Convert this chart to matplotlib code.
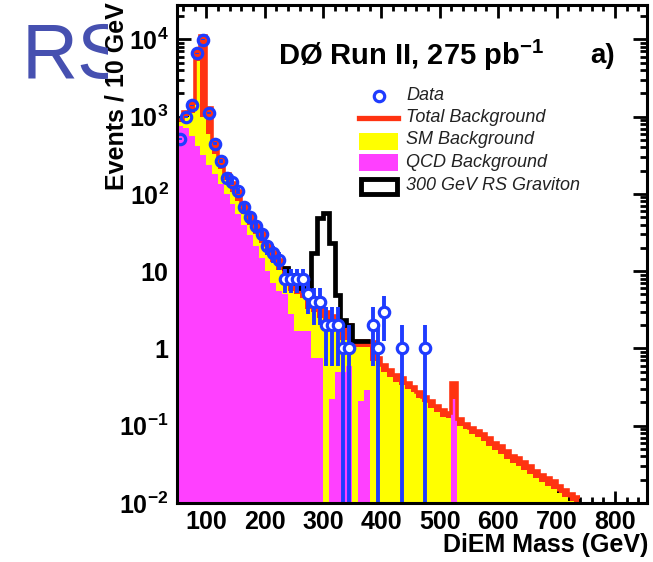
import numpy as np
import matplotlib.pyplot as plt
from matplotlib.patches import Rectangle
from matplotlib.lines import Line2D
from matplotlib.ticker import FixedLocator, MultipleLocator, LogLocator, NullFormatter

plt.rcParams['font.family'] = ['Liberation Sans', 'DejaVu Sans']
plt.rcParams['mathtext.fontset'] = 'custom'
plt.rcParams['mathtext.rm'] = 'Liberation Sans'
plt.rcParams['mathtext.bf'] = 'Liberation Sans:bold'
plt.rcParams['mathtext.it'] = 'Liberation Sans:italic'

W, H = 653, 562
RED = '#ff3311'
YEL = '#ffff00'
MAG = '#ff40ff'
BLUE = '#1f3cff'

# background histograms, 10 GeV bins starting at 50 GeV
bkg_start = 50
total_bkg = [900, 1150, 1500, 7000, 11000, 1300, 480, 290, 180, 140,
             110, 72, 53, 40, 31, 22, 17.5, 14, 11, 9,
             7, 6, 5.2, 4.5, 3.5, 3.0, 2.6, 2.3, 2.0, 2.0,
             1.25, 1.25, 1.25, 1.2, 0.75, 0.615, 0.52, 0.457, 0.414, 0.357,
             0.316, 0.27, 0.232, 0.206, 0.18, 0.161, 0.148, 0.36, 0.122, 0.106,
             0.093, 0.085, 0.078, 0.069, 0.060, 0.054, 0.047, 0.041, 0.038, 0.0335,
             0.030, 0.026, 0.023, 0.021, 0.019, 0.0168, 0.0149, 0.0132, 0.0120]
sm_bkg = [850, 1000, 1100, 5200, 1000, 600, 330, 210, 150, 105,
          80, 55, 40, 30, 23, 17, 13, 10.5, 8, 5.5,
          5.0, 4.5, 3.2, 3.0, 2.5, 2.13, 2.13, 1.8, 1.3, 1.3,
          1.06, 1.06, 1.06, 0.68, 0.61, 0.50, 0.43, 0.37, 0.34, 0.30,
          0.27, 0.23, 0.20, 0.17, 0.15, 0.13, 0.125, 0.22, 0.10, 0.09,
          0.078, 0.071, 0.064, 0.055, 0.048, 0.043, 0.037, 0.033, 0.030, 0.027,
          0.024, 0.021, 0.0185, 0.0168, 0.015, 0.0134, 0.0119, 0.0106, 0.0096]
qcd_bkg = [760, 720, 560, 420, 320, 240, 180, 135, 100, 75,
           55, 40, 29, 21, 15, 10, 7, 5.5, 5.0, 2.8,
           1.7, 1.7, 1.7, 0.76, 0.76, 0, 0.22, 0.5, 0.5, 0.6,
           0, 0.21, 0.29, 0, 0, 0, 0, 0, 0, 0,
           0, 0, 0, 0, 0, 0, 0, 0.22, 0, 0,
           0, 0, 0, 0, 0, 0, 0, 0, 0, 0,
           0, 0, 0, 0, 0, 0, 0, 0, 0]

# observed events per 10 GeV bin starting at 50 GeV
data_start = 50
data_counts = [515, 990, 1400, 6600, 9900, 1120, 446, 271, 163, 142,
               110, 67, 51, 38, 30, 21, 17, 14, 8, 8,
               8, 8, 5, 4, 4, 2, 2, 2, 1, 1,
               0, 0, 0, 2, 1, 3, 0, 0, 1, 0,
               0, 0, 1]

# 300 GeV RS graviton (signal + background) starting at 230 GeV
grav_start = 230
grav_counts = [11, 9, 7, 6, 5.7, 17, 48.6, 56.5, 23, 4.95, 2.35, 2.0, 1.25, 1.25, 1.25]


def edges_for(start, n):
    return start + 10 * np.arange(n + 1)


def positive(v):
    v = np.asarray(v, dtype=float)
    return np.where(v > 0, v, 1e-6)


fig = plt.figure(figsize=(W / 100, H / 100), dpi=100)
ax = fig.add_axes([177 / W, 1 - 503 / H, (647 - 177) / W, (503 - 5) / H])
ax.set_yscale('log')

e_bkg = edges_for(bkg_start, len(total_bkg))
ax.stairs(positive(total_bkg), e_bkg, fill=True, baseline=1e-6, color=RED, zorder=1)
ax.stairs(positive(sm_bkg), e_bkg, fill=True, baseline=1e-6, color=YEL, zorder=2)
ax.stairs(positive(qcd_bkg), e_bkg, fill=True, baseline=1e-6, color=MAG, zorder=3)
# thick outline of the total background
ax.stairs(total_bkg, e_bkg, baseline=None, color=RED, lw=2.6, zorder=3.5)

e_grav = edges_for(grav_start, len(grav_counts))
ax.stairs(grav_counts, e_grav, baseline=None, color='black', lw=3.4, zorder=4)

# data with sqrt(N) errors
e_data = edges_for(data_start, len(data_counts))
centers = e_data[:-1] + 5
counts = np.asarray(data_counts, dtype=float)
mask = counts > 0
xs, ns = centers[mask], counts[mask]
err = np.sqrt(ns)
low = np.maximum(ns - err, 1e-4)
ax.vlines(xs, low, ns + err, color=BLUE, lw=2.8, zorder=5)
small = ns <= 10
ax.plot(xs[~small], ns[~small], 'o', ms=7.5, mfc='none', mec=BLUE, mew=2.3, zorder=6)
ax.plot(xs[small], ns[small], 'o', ms=7.5, mfc='white', mec=BLUE, mew=2.3, zorder=6)

ax.set_xlim(50, 855)
ax.set_ylim(1e-2, 2.79e4)

for s in ax.spines.values():
    s.set_linewidth(2.2)
    s.set_zorder(10)

ax.xaxis.set_major_locator(MultipleLocator(100))
ax.xaxis.set_minor_locator(MultipleLocator(20))
ax.yaxis.set_minor_locator(LogLocator(base=10, subs=np.arange(2, 10), numticks=20))
ax.yaxis.set_minor_formatter(NullFormatter())

ytick_vals = [1e-2, 1e-1, 1, 10, 1e2, 1e3, 1e4]
ytick_labs = [r'$\mathbf{10^{-2}}$', r'$\mathbf{10^{-1}}$', '1', '10',
              r'$\mathbf{10^{2}}$', r'$\mathbf{10^{3}}$', r'$\mathbf{10^{4}}$']
ax.yaxis.set_major_locator(FixedLocator(ytick_vals))
ax.set_yticklabels(ytick_labs)

ax.tick_params(axis='both', which='both', direction='in', top=True, right=True, width=2)
ax.tick_params(axis='x', which='major', length=9, labelsize=18, pad=5)
ax.tick_params(axis='x', which='minor', length=4.5)
ax.tick_params(axis='y', which='major', length=10, labelsize=18, pad=6)
ax.tick_params(axis='y', which='minor', length=5)
for lab in ax.get_xticklabels() + ax.get_yticklabels():
    lab.set_fontweight('bold')

fig.text(648 / W, 1 - 545 / H, 'DiEM Mass (GeV)', ha='right', va='center',
         fontsize=18, fontweight='bold')
fig.text(117 / W, 1 - 2 / H, 'Events / 10 GeV', rotation=90, ha='center', va='top',
         fontsize=18, fontweight='bold')

fig.text(278 / W, 1 - 55 / H, r'DØ Run II, 275 pb$^{\mathbf{-1}}$', ha='left', va='center',
         fontsize=21, fontweight='bold')
fig.text(590 / W, 1 - 56 / H, 'a)', ha='left', va='center', fontsize=20, fontweight='bold')

# legend drawn by hand
fig.add_artist(Line2D([379 / W], [1 - 96 / H], marker='o', ms=7.5, mfc='white', mec=BLUE,
                      mew=2.3, transform=fig.transFigure))
fig.add_artist(Line2D([359 / W, 398 / W], [1 - 118 / H] * 2, color=RED, lw=3.8,
                      transform=fig.transFigure))
fig.add_artist(Rectangle((359 / W, 1 - 150 / H), 39 / W, 17 / H, fc=YEL, ec='none',
                         transform=fig.transFigure))
fig.add_artist(Rectangle((359 / W, 1 - 171 / H), 39 / W, 17 / H, fc=MAG, ec='none',
                         transform=fig.transFigure))
fig.add_artist(Rectangle((361 / W, 1 - 194 / H), 36 / W, 15 / H, fc='none', ec='black',
                         lw=3.5, transform=fig.transFigure))
leg_labels = ['Data', 'Total Background', 'SM Background', 'QCD Background',
              '300 GeV RS Graviton']
leg_y = [95, 118, 140, 162, 186]
for lab, yy in zip(leg_labels, leg_y):
    fig.text(406 / W, 1 - yy / H, lab, ha='left', va='center', fontsize=13,
             style='italic', color='#222222')

# big blue "RS" partly hidden at the left
rs = fig.text(22 / W, 1 - 78 / H, 'RS', ha='left', va='baseline', fontsize=56,
              color='#4650b0')
clip = Rectangle((0, 0), 108 / W, 1, transform=fig.transFigure)
rs.set_clip_path(clip)

fig.savefig('out.png', dpi=100)
